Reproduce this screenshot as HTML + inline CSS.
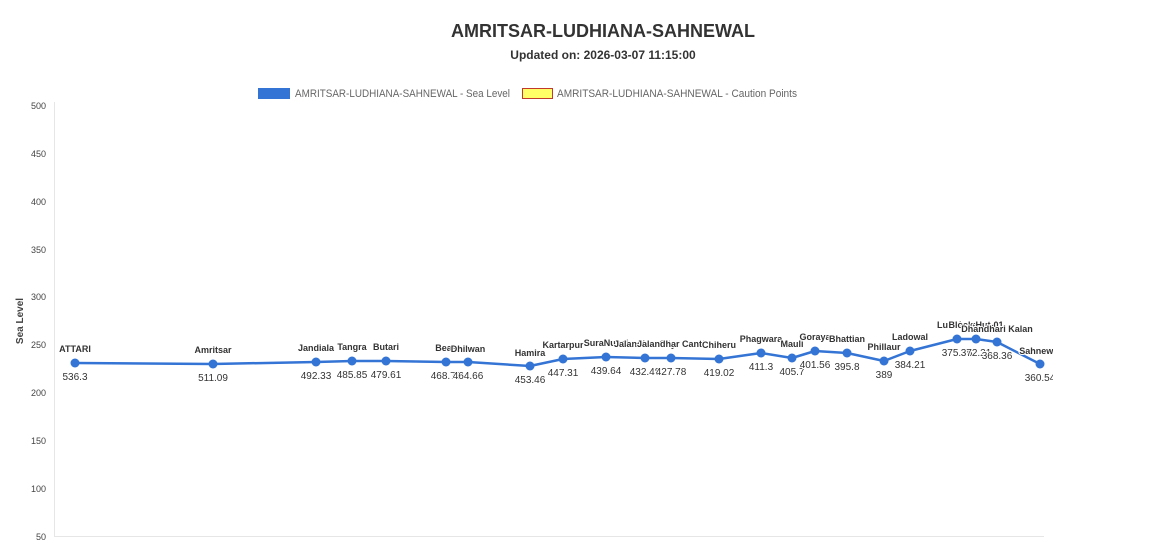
<!DOCTYPE html>
<html><head><meta charset="utf-8"><style>
body{margin:0;background:#fff;font-family:"Liberation Sans",Arial,sans-serif}
svg text{font-family:"Liberation Sans",Arial,sans-serif}
</style></head><body>
<svg width="1172" height="542" xmlns="http://www.w3.org/2000/svg">
<text x="603" y="37" text-anchor="middle" font-size="18" font-weight="bold" fill="#333" textLength="304" lengthAdjust="spacingAndGlyphs">AMRITSAR-LUDHIANA-SAHNEWAL</text>
<text x="603" y="59" text-anchor="middle" font-size="12" font-weight="bold" fill="#333">Updated on: 2026-03-07 11:15:00</text>
<rect x="258" y="88" width="32" height="11" fill="#3474d4"/>
<text x="295" y="97" font-size="11" fill="#666" textLength="215" lengthAdjust="spacingAndGlyphs">AMRITSAR-LUDHIANA-SAHNEWAL - Sea Level</text>
<rect x="522.5" y="88.5" width="30" height="10" fill="#ffff66" stroke="#c0392b"/>
<text x="557" y="97" font-size="11" fill="#666" textLength="240" lengthAdjust="spacingAndGlyphs">AMRITSAR-LUDHIANA-SAHNEWAL - Caution Points</text>
<line x1="54.5" y1="102" x2="54.5" y2="537" stroke="#e6e6e6"/>
<line x1="54" y1="536.5" x2="1044" y2="536.5" stroke="#e6e6e6"/>
<g font-size="9" fill="#444" text-anchor="end">
<text x="46" y="109">500</text><text x="46" y="157">450</text><text x="46" y="205">400</text><text x="46" y="253">350</text><text x="46" y="300">300</text><text x="46" y="348">250</text><text x="46" y="396">200</text><text x="46" y="444">150</text><text x="46" y="492">100</text><text x="46" y="540">50</text>
</g>
<text transform="translate(23,321) rotate(-90)" text-anchor="middle" font-size="10" font-weight="bold" fill="#444">Sea Level</text>
<defs><clipPath id="c"><rect x="0" y="0" width="1053" height="542"/></clipPath></defs>
<g clip-path="url(#c)">
<polyline fill="none" stroke="#3474d4" stroke-width="2.5" stroke-linejoin="round" points="75,363 213,364 316,362 352,361 386,361 446,362 468,362 530,366 563,359 606,357 645,358 671,358 719,359 761,353 792,358 815,351 847,353 884,361 910,351 957,339 976,339 997,342 1040,364"/>
<g fill="#3474d4">
<circle cx="75" cy="363" r="4.5"/><circle cx="213" cy="364" r="4.5"/><circle cx="316" cy="362" r="4.5"/><circle cx="352" cy="361" r="4.5"/><circle cx="386" cy="361" r="4.5"/><circle cx="446" cy="362" r="4.5"/><circle cx="468" cy="362" r="4.5"/><circle cx="530" cy="366" r="4.5"/><circle cx="563" cy="359" r="4.5"/><circle cx="606" cy="357" r="4.5"/><circle cx="645" cy="358" r="4.5"/><circle cx="671" cy="358" r="4.5"/><circle cx="719" cy="359" r="4.5"/><circle cx="761" cy="353" r="4.5"/><circle cx="792" cy="358" r="4.5"/><circle cx="815" cy="351" r="4.5"/><circle cx="847" cy="353" r="4.5"/><circle cx="884" cy="361" r="4.5"/><circle cx="910" cy="351" r="4.5"/><circle cx="957" cy="339" r="4.5"/><circle cx="976" cy="339" r="4.5"/><circle cx="997" cy="342" r="4.5"/><circle cx="1040" cy="364" r="4.5"/>
</g>
<g font-size="9" font-weight="bold" fill="#333" text-anchor="middle" stroke="#fff" stroke-width="2" paint-order="stroke">
<text x="75" y="352">ATTARI</text><text x="213" y="353">Amritsar</text><text x="316" y="351">Jandiala</text><text x="352" y="350">Tangra</text><text x="386" y="350">Butari</text><text x="446" y="351">Beas</text><text x="468" y="352">Dhilwan</text><text x="530" y="356">Hamira</text><text x="563" y="348">Kartarpur</text><text x="606" y="346">SuraNussi</text><text x="645" y="347">Jalandhar City</text><text x="671" y="347">Jalandhar Cantt</text><text x="719" y="348">Chiheru</text><text x="761" y="342">Phagwara</text><text x="792" y="347">Mauli</text><text x="815" y="340">Goraya</text><text x="847" y="342">Bhattian</text><text x="884" y="350">Phillaur</text><text x="910" y="340">Ladowal</text><text x="957" y="328">Ludhiana</text><text x="976" y="328">Block Hut-01</text><text x="997" y="332">Dhandhari Kalan</text><text x="1040" y="354">Sahnewal</text>
</g>
<g font-size="10" fill="#333" text-anchor="middle" stroke="#fff" stroke-width="2" paint-order="stroke">
<text x="75" y="380">536.3</text><text x="213" y="381">511.09</text><text x="316" y="379">492.33</text><text x="352" y="378">485.85</text><text x="386" y="378">479.61</text><text x="446" y="379">468.75</text><text x="468" y="379">464.66</text><text x="530" y="383">453.46</text><text x="563" y="376">447.31</text><text x="606" y="374">439.64</text><text x="645" y="375">432.48</text><text x="671" y="375">427.78</text><text x="719" y="376">419.02</text><text x="761" y="370">411.3</text><text x="792" y="375">405.7</text><text x="815" y="368">401.56</text><text x="847" y="370">395.8</text><text x="884" y="378">389</text><text x="910" y="368">384.21</text><text x="957" y="356">375.85</text><text x="976" y="356">372.21</text><text x="997" y="359">368.36</text><text x="1040" y="381">360.54</text>
</g>
</g>
</svg>
</body></html>
